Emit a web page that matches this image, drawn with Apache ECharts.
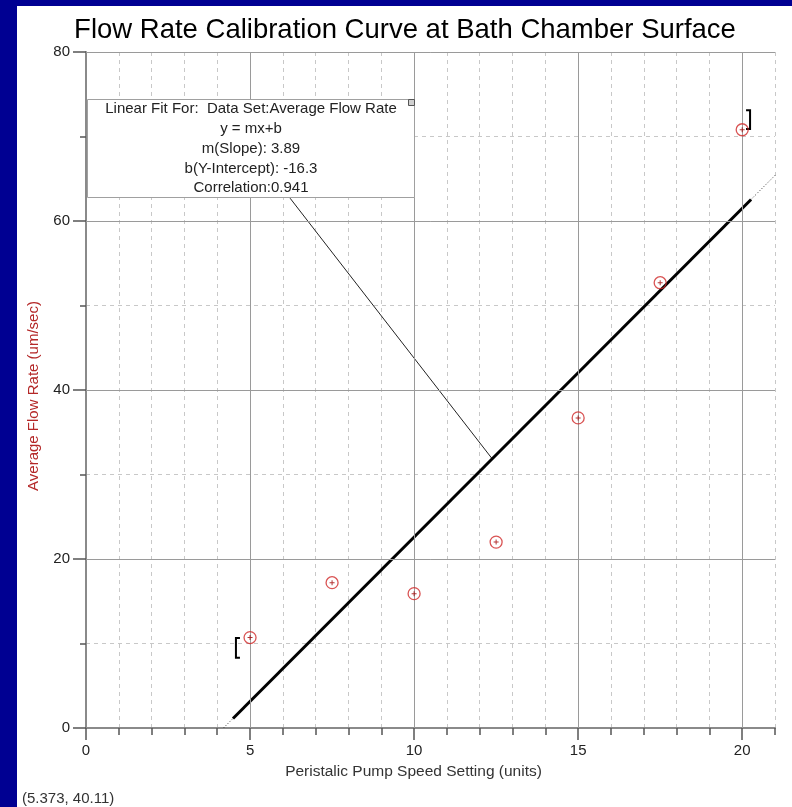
<!DOCTYPE html>
<html><head><meta charset="utf-8">
<script src="https://cdn.jsdelivr.net/npm/echarts@6/dist/echarts.min.js"></script>
<style>html,body{margin:0;padding:0;background:#fff}#c{width:792px;height:807px}</style>
</head><body><div id="c"></div>
<script>
// ---- data ----
const pumpSetting = [5, 7.5, 10, 12.5, 15, 17.5, 20];
const flowRate = [10.7, 17.2, 15.9, 22.0, 36.7, 52.7, 70.8];
// linear fit drawn in the reference (y = 3.89x - 16.3), read end points
const fitSolidX = [4.48, 20.27];
const fitSolidY = [1.13, 62.55];
const fitDotLowX = [4.19, 4.48];
const fitDotLowY = [0, 1.13];
const fitDotHighX = [20.27, 21];
const fitDotHighY = [62.55, 65.4];
// leader line from annotation box to the fit line
const leaderX = [6.22, 12.38];
const leaderY = [62.7, 31.86];
// fit-range brackets: x, yBottom, yTop, direction
const bracketX = [4.57, 20.24];
const bracketYLow = [8.3, 70.9];
const bracketYHigh = [10.65, 73.1];
const bracketDir = [1, -1];
const xTickLabels = [0, 5, 10, 15, 20];
const yTickLabels = [0, 20, 40, 60, 80];
const majorX = [5, 10, 15, 20];
const majorY = [20, 40, 60, 80];
const fitLines = [
  'Linear Fit For:  Data Set:Average Flow Rate',
  'y = mx+b',
  'm(Slope): 3.89',
  'b(Y-Intercept): -16.3',
  'Correlation:0.941'
];
const titleText = 'Flow Rate Calibration Curve at Bath Chamber Surface';
const xName = 'Peristalic Pump Speed Setting (units)';
const yName = 'Average Flow Rate (um/sec)';
const cursorText = '(5.373, 40.11)';

const FONT = 'Arial, "Liberation Sans", sans-serif';
const zip = (a, b) => a.map((v, i) => [v, b[i]]);

const chart = echarts.init(document.getElementById('c'), null, {renderer: 'canvas'});

const markData = majorX.map(v => ({xAxis: v})).concat(majorY.map(v => ({yAxis: v})));

const graphics = [
  {type: 'rect', shape: {x: 0, y: 0, width: 17, height: 807}, style: {fill: '#000092'}, z: 200},
  {type: 'rect', shape: {x: 0, y: 0, width: 792, height: 6}, style: {fill: '#000092'}, z: 200},
  {type: 'text', x: 405, y: 30, z: 100, style: {text: titleText, font: '27.5px ' + FONT, fill: '#000', textAlign: 'center', textVerticalAlign: 'middle'}},
  {type: 'rect', shape: {x: 87.5, y: 99.5, width: 327, height: 98}, style: {fill: '#fff', stroke: '#a0a0a0', lineWidth: 1}, z: 100},
  {type: 'rect', shape: {x: 408.5, y: 99.5, width: 6, height: 6}, style: {fill: '#d0d0d0', stroke: '#555', lineWidth: 1}, z: 101},
  {type: 'text', x: 22, y: 791, z: 100, style: {text: cursorText, font: '15px ' + FONT, fill: '#333', textVerticalAlign: 'top'}}
];
fitLines.forEach((t, i) => {
  graphics.push({type: 'text', x: 251, y: 109 + i * 19.8, z: 101,
    style: {text: t, font: '15px ' + FONT, fill: '#222', textAlign: 'center', textVerticalAlign: 'middle'}});
});

const option = {
  animation: false,
  backgroundColor: '#fff',
  grid: {left: 86, top: 52, right: 17, bottom: 79, containLabel: false},
  xAxis: [
    {type: 'value', min: 0, max: 21, interval: 1, position: 'bottom',
      axisLine: {show: true, onZero: false, lineStyle: {color: '#8a8a8a', width: 2}},
      axisTick: {show: true, inside: false, length: 7, lineStyle: {color: '#555', width: 1.5}},
      axisLabel: {show: false},
      splitLine: {show: true, lineStyle: {color: '#c8c8c8', type: [4, 4], width: 1}}},
    {type: 'value', min: 0, max: 21, position: 'bottom',
      axisLine: {show: false, onZero: false},
      axisTick: {show: true, inside: false, length: 12, customValues: xTickLabels, lineStyle: {color: '#555', width: 1.5}},
      axisLabel: {show: true, customValues: xTickLabels, margin: 15, fontSize: 15, fontFamily: FONT, color: '#222'},
      splitLine: {show: false},
      name: xName, nameLocation: 'middle', nameGap: 36,
      nameTextStyle: {fontSize: 15.5, fontFamily: FONT, color: '#333', padding: [0, 34, 0, 0]}}
  ],
  yAxis: [
    {type: 'value', min: 0, max: 80, interval: 10, position: 'left',
      axisLine: {show: true, onZero: false, lineStyle: {color: '#8a8a8a', width: 2}},
      axisTick: {show: true, inside: false, length: 6, lineStyle: {color: '#555', width: 1.5}},
      axisLabel: {show: false},
      splitLine: {show: true, lineStyle: {color: '#c8c8c8', type: [4, 4], width: 1}}},
    {type: 'value', min: 0, max: 80, position: 'left',
      axisLine: {show: false, onZero: false},
      axisTick: {show: true, inside: false, length: 13, customValues: yTickLabels, lineStyle: {color: '#555', width: 1.5}},
      axisLabel: {show: true, customValues: yTickLabels, margin: 16, fontSize: 15, fontFamily: FONT, color: '#222'},
      splitLine: {show: false},
      name: yName, nameLocation: 'middle', nameGap: 45,
      nameTextStyle: {fontSize: 15, fontFamily: FONT, color: '#b42828', padding: [0, 12, 0, 0]}}
  ],
  series: [
    {type: 'line', xAxisIndex: 0, yAxisIndex: 0, data: [], silent: true,
      markLine: {silent: true, symbol: ['none', 'none'], label: {show: false},
        lineStyle: {color: '#9a9a9a', type: 'solid', width: 1}, data: markData}},
    {type: 'line', xAxisIndex: 0, yAxisIndex: 0, data: zip(leaderX, leaderY), symbol: 'none',
      lineStyle: {color: '#222', width: 1}, silent: true, z: 3},
    {type: 'line', xAxisIndex: 0, yAxisIndex: 0, data: zip(fitDotLowX, fitDotLowY), symbol: 'none',
      lineStyle: {color: '#333', width: 1, type: [1, 2]}, silent: true, z: 3},
    {type: 'line', xAxisIndex: 0, yAxisIndex: 0, data: zip(fitDotHighX, fitDotHighY), symbol: 'none',
      lineStyle: {color: '#333', width: 1, type: [1, 2]}, silent: true, z: 3},
    {type: 'line', xAxisIndex: 0, yAxisIndex: 0, data: zip(fitSolidX, fitSolidY), symbol: 'none',
      lineStyle: {color: '#000', width: 3}, silent: true, z: 4},
    {type: 'custom', xAxisIndex: 0, yAxisIndex: 0, silent: true, z: 5,
      data: bracketX.map((x, i) => [x, bracketYLow[i], bracketYHigh[i], bracketDir[i]]),
      renderItem: function (params, api) {
        const a = api.coord([api.value(0), api.value(1)]);
        const b = api.coord([api.value(0), api.value(2)]);
        const d = api.value(3) * 4;
        return {type: 'polyline', shape: {points: [[a[0] + d, b[1]], [a[0], b[1]], [a[0], a[1]], [a[0] + d, a[1]]]},
          style: {stroke: '#000', lineWidth: 2, fill: null}};
      }},
    {type: 'scatter', xAxisIndex: 0, yAxisIndex: 0, data: zip(pumpSetting, flowRate),
      symbol: 'circle', symbolSize: 12, silent: true, z: 6,
      itemStyle: {color: 'rgba(255,255,255,0)', borderColor: '#d02828', borderWidth: 1.3}},
    {type: 'scatter', xAxisIndex: 0, yAxisIndex: 0, data: zip(pumpSetting, flowRate),
      symbol: 'path://M0,2h5v1h-5z M2,0h1v5h-1z', symbolSize: 5, silent: true, z: 7,
      itemStyle: {color: '#a00000'}}
  ],
  graphic: graphics
};
chart.setOption(option);
</script>
</body></html>
